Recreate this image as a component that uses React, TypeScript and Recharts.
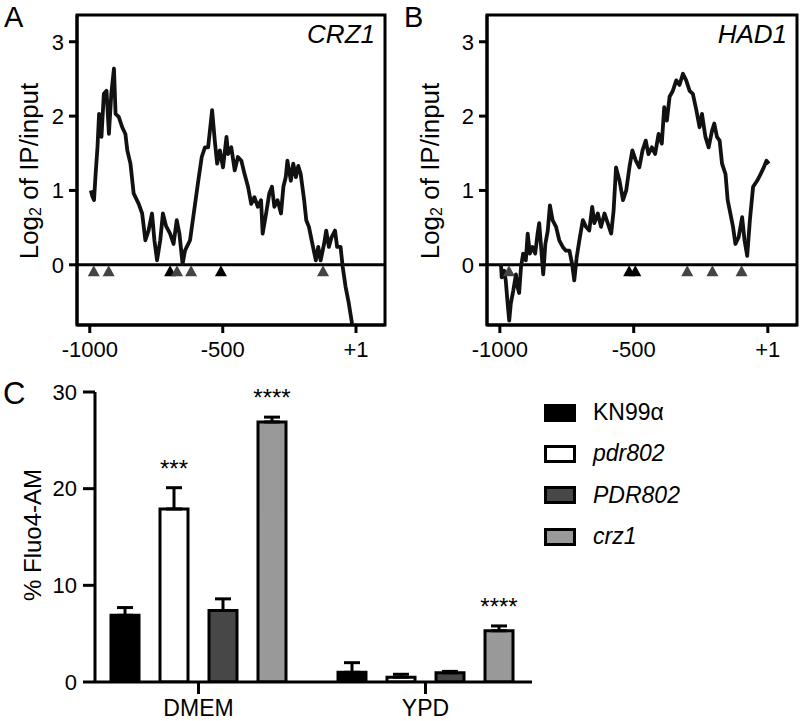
import React from "react";
import {
  ComposedChart,
  Line,
  Scatter,
  XAxis,
  YAxis,
  ReferenceLine,
  ReferenceArea,
  BarChart,
  Bar,
  ErrorBar,
  LabelList,
  Legend,
} from "recharts";

const FONT = "'Liberation Sans', Arial, Helvetica, sans-serif";

// A: CRZ1 promoter, position vs log2 IP/input
const crz1Pos = [
  -996, -990, -984, -978, -971, -965, -956, -947, -937, -928, -919, -909, -903, -891, -878, -866, -859, -847,
  -835, -816, -803, -791, -779, -766, -757, -747, -735, -725, -713, -698, -685, -673, -663, -651, -642, -623,
  -604, -592, -579, -567, -555, -540, -530, -521, -511, -499, -486, -480, -468, -455, -443, -430, -418, -405,
  -393, -381, -368, -356, -350, -337, -325, -315, -306, -294, -281, -272, -263, -257, -244, -235, -225, -216,
  -207, -194, -186, -176, -163, -150, -141, -132, -119, -111, -101, -91, -78, -70, -57, -49, -38, -26, -14, -8,
];
const crz1Log2 = [
  1.0, 0.92, 0.87, 1.22, 1.58, 2.03, 1.72, 2.3, 2.34, 1.76, 2.3, 2.64, 2.03, 1.99, 1.85, 1.76, 1.54, 1.36,
  0.96, 0.82, 0.69, 0.33, 0.46, 0.69, 0.33, 0.06, 0.33, 0.69, 0.52, 0.42, 0.28, 0.6, 0.42, 0.01, 0.19, 0.33,
  0.82, 1.13, 1.45, 1.58, 1.58, 2.08, 1.67, 1.36, 1.54, 1.31, 1.72, 1.49, 1.58, 1.27, 1.45, 1.4, 1.22, 1.05,
  0.82, 0.91, 0.78, 0.87, 0.42, 0.69, 0.96, 1.05, 0.78, 0.87, 0.69, 1.05, 1.18, 1.4, 1.13, 1.36, 1.18, 1.33,
  1.22, 0.87, 0.6, 0.51, 0.28, 0.06, 0.24, 0.06, 0.28, 0.46, 0.24, 0.37, 0.46, 0.24, 0.24, -0.03, -0.3, -0.52, -0.79, -0.9,
];

// B: HAD1 promoter
const had1Pos = [
  -996, -993, -984, -978, -971, -965, -959, -950, -940, -934, -928, -921, -913, -903, -896, -888, -878, -868,
  -859, -853, -846, -838, -830, -821, -813, -803, -790, -778, -765, -753, -740, -730, -722, -713, -703, -690,
  -678, -666, -655, -647, -634, -622, -609, -597, -584, -575, -566, -553, -540, -528, -516, -505, -492, -479,
  -467, -455, -445, -432, -420, -407, -395, -386, -376, -366, -354, -341, -329, -316, -304, -291, -279, -266,
  -254, -245, -232, -220, -207, -199, -189, -179, -170, -157, -149, -139, -129, -120, -108, -95, -86, -76,
  -66, -54, -39, -26, -14, -4, 5,
];
const had1Log2 = [
  0.01, -0.17, -0.08, -0.21, -0.52, -0.75, -0.52, -0.35, -0.13, -0.3, -0.38, -0.03, 0.15, 0.06, 0.42, 0.15, 0.24, 0.15,
  0.42, 0.56, 0.24, -0.13, 0.28, 0.46, 0.8, 0.6, 0.51, 0.33, 0.24, 0.19, 0.19, 0.01, -0.21, 0.1, 0.33, 0.6,
  0.51, 0.46, 0.78, 0.56, 0.69, 0.51, 0.69, 0.56, 0.42, 0.73, 1.31, 1.13, 0.87, 1.0, 1.31, 1.54, 1.4, 1.31,
  1.54, 1.67, 1.49, 1.58, 1.49, 1.76, 1.63, 2.12, 1.94, 2.26, 2.34, 2.48, 2.42, 2.57, 2.48, 2.34, 2.3, 2.08,
  1.85, 2.03, 1.72, 1.58, 1.81, 1.9, 1.72, 1.67, 1.36, 1.22, 0.87, 0.69, 0.51, 0.28, 0.37, 0.64, 0.33, 0.12,
  0.6, 1.05, 1.13, 1.22, 1.31, 1.4, 1.36,
];

// motif sites drawn as triangles under the zero line
const crz1Sites = [-985, -929, -698, -672, -619, -507, -123];
const crz1SiteColor = ["#444", "#444", "#000", "#444", "#444", "#000", "#444"];
const had1Sites = [-966, -517, -494, -300, -206, -97];
const had1SiteColor = ["#444", "#000", "#000", "#444", "#444", "#444"];
const SITE_Y = -0.08;

const promoterTicks = [-1000, -500, 1];
const log2Ticks = [0, 1, 2, 3];
const X_DOMAIN = [-1048, 110];
const Y_DOMAIN = [-0.81, 3.36];

// C: % Fluo4-AM
const media = ["DMEM", "YPD"];
const strains = ["KN99\u03b1", "pdr802", "PDR802", "crz1"];
const strainFill = ["#000", "#fff", "#474747", "#999"];
const kn99Mean = [6.9, 1.0];
const kn99Err = [0.8, 1.0];
const pdr802Mean = [17.9, 0.5];
const pdr802Err = [2.2, 0.3];
const pdr802CompMean = [7.4, 0.95];
const pdr802CompErr = [1.2, 0.15];
const crz1Mean = [26.9, 5.3];
const crz1Err = [0.5, 0.5];
const pdr802Stars = ["***", ""];
const crz1Stars = ["****", "****"];
const fluoTicks = [0, 10, 20, 30];

const zip = (xs: number[], ys: number[]) => xs.map((x, i) => ({ x, y: ys[i] }));
const crz1Trace = zip(crz1Pos, crz1Log2);
const had1Trace = zip(had1Pos, had1Log2);
const crz1Marks = crz1Sites.map((x, i) => ({ x, y: SITE_Y, color: crz1SiteColor[i] }));
const had1Marks = had1Sites.map((x, i) => ({ x, y: SITE_Y, color: had1SiteColor[i] }));

const fluoData = media.map((m, i) => ({
  medium: m,
  kn99: kn99Mean[i],
  kn99E: [0, kn99Err[i]],
  pdr: pdr802Mean[i],
  pdrE: [0, pdr802Err[i]],
  comp: pdr802CompMean[i],
  compE: [0, pdr802CompErr[i]],
  crz: crz1Mean[i],
  crzE: [0, crz1Err[i]],
}));

const Tri = (props: any) => {
  const { cx, cy, payload } = props;
  if (cx == null || cy == null) return null;
  return (
    <polygon
      points={`${cx - 6},${cy + 5.5} ${cx + 6},${cy + 5.5} ${cx},${cy - 5.5}`}
      fill={payload.color}
    />
  );
};

const Log2Title = ({ cx, cy }: { cx: number; cy: number }) => (
  <text
    x={cx}
    y={cy}
    transform={`rotate(-90 ${cx} ${cy})`}
    textAnchor="middle"
    dominantBaseline="central"
    fontSize={26}
    fontFamily={FONT}
    fill="#000"
  >
    Log
    <tspan fontSize={16} dy={6}>
      2
    </tspan>
    <tspan dy={-6}> of IP/input</tspan>
  </text>
);

const tickStyle = { fill: "#000", fontSize: 22, fontFamily: FONT };
const axisStroke = { stroke: "#000", strokeWidth: 3 };

type TraceProps = {
  letter: string;
  gene: string;
  trace: { x: number; y: number }[];
  marks: { x: number; y: number; color: string }[];
  yWidth: number;
  right: number;
  geneX: number;
};

const TracePanel = ({ letter, gene, trace, marks, yWidth, right, geneX }: TraceProps) => (
  <ComposedChart width={400} height={370} margin={{ top: 15, right, bottom: 0, left: 0 }}>
    <XAxis
      type="number"
      dataKey="x"
      domain={X_DOMAIN}
      ticks={promoterTicks}
      allowDataOverflow
      height={45}
      tickSize={8}
      tickMargin={8}
      axisLine={axisStroke}
      tickLine={axisStroke}
      tick={tickStyle}
      tickFormatter={(v: number) => (v === 1 ? "+1" : String(v))}
    />
    <YAxis
      type="number"
      dataKey="y"
      domain={Y_DOMAIN}
      ticks={log2Ticks}
      allowDataOverflow
      width={yWidth}
      tickSize={8}
      tickMargin={5}
      axisLine={axisStroke}
      tickLine={axisStroke}
      tick={tickStyle}
    />
    <ReferenceArea
      x1={X_DOMAIN[0]}
      x2={X_DOMAIN[1]}
      y1={Y_DOMAIN[0]}
      y2={Y_DOMAIN[1]}
      fill="none"
      stroke="#000"
      strokeWidth={3}
      fillOpacity={0}
    />
    <ReferenceLine y={0} stroke="#000" strokeWidth={3} />
    <Scatter data={marks} dataKey="y" shape={<Tri />} isAnimationActive={false} />
    <Line
      data={trace}
      dataKey="y"
      type="linear"
      stroke="#111"
      strokeWidth={3.8}
      strokeLinejoin="round"
      dot={false}
      isAnimationActive={false}
    />
    <text x={4} y={27} fontSize={29} fontFamily={FONT} fill="#000">
      {letter}
    </text>
    <text x={geneX} y={43} textAnchor="end" fontSize={26} fontStyle="italic" fontFamily={FONT} fill="#000">
      {gene}
    </text>
    <Log2Title cx={yWidth === 77 ? 29 : 30} cy={171} />
  </ComposedChart>
);

const starContent = (stars: string[], means: number[], errs: number[]) => (props: any) => {
  const { x, y, width, height, index } = props;
  const s = stars[index];
  if (!s) return null;
  const perUnit = height / means[index];
  const errTop = y - errs[index] * perUnit;
  return (
    <text x={x + width / 2} y={errTop - 11} textAnchor="middle" fontSize={24} fontFamily={FONT} fill="#000">
      {s}
    </text>
  );
};

const renderLegend = () => (
  <div style={{ fontFamily: FONT, color: "#000" }}>
    {strains.map((s, i) => (
      <div key={s} style={{ height: 41.3, display: "flex", alignItems: "center" }}>
        <div
          style={{
            width: 32,
            height: 18,
            background: strainFill[i],
            border: "3px solid #000",
            boxSizing: "border-box",
          }}
        />
        <span style={{ marginLeft: 17, fontSize: 23, fontStyle: i === 0 ? "normal" : "italic" }}>{s}</span>
      </div>
    ))}
  </div>
);

const barStroke = { stroke: "#000", strokeWidth: 3 };

const FluoPanel = () => (
  <BarChart
    width={800}
    height={361}
    data={fluoData}
    margin={{ top: 32, right: 268, bottom: 0, left: 0 }}
    barSize={28}
    barGap={21}
  >
    <XAxis
      dataKey="medium"
      padding={{ left: -10, right: -7 }}
      height={39}
      tickSize={12}
      tickMargin={6}
      axisLine={axisStroke}
      tickLine={axisStroke}
      tick={{ fill: "#000", fontSize: 23, fontFamily: FONT }}
    />
    <YAxis
      domain={[0, 30]}
      ticks={fluoTicks}
      allowDataOverflow
      width={95}
      tickSize={12}
      tickMargin={6}
      axisLine={axisStroke}
      tickLine={axisStroke}
      tick={tickStyle}
    />
    <Legend
      layout="vertical"
      align="center"
      verticalAlign="middle"
      wrapperStyle={{ left: 544, top: 32, width: 240 }}
      content={renderLegend}
    />
    <Bar dataKey="kn99" fill={strainFill[0]} {...barStroke} isAnimationActive={false}>
      <ErrorBar dataKey="kn99E" direction="y" width={8} stroke="#000" strokeWidth={3} />
    </Bar>
    <Bar dataKey="pdr" fill={strainFill[1]} {...barStroke} isAnimationActive={false}>
      <ErrorBar dataKey="pdrE" direction="y" width={8} stroke="#000" strokeWidth={3} />
      <LabelList dataKey="pdr" content={starContent(pdr802Stars, pdr802Mean, pdr802Err)} />
    </Bar>
    <Bar dataKey="comp" fill={strainFill[2]} {...barStroke} isAnimationActive={false}>
      <ErrorBar dataKey="compE" direction="y" width={8} stroke="#000" strokeWidth={3} />
    </Bar>
    <Bar dataKey="crz" fill={strainFill[3]} {...barStroke} isAnimationActive={false}>
      <ErrorBar dataKey="crzE" direction="y" width={8} stroke="#000" strokeWidth={3} />
      <LabelList dataKey="crz" content={starContent(crz1Stars, crz1Mean, crz1Err)} />
    </Bar>
    <text x={3} y={44} fontSize={31} fontFamily={FONT} fill="#000">
      C
    </text>
    <text
      x={32}
      y={175}
      transform="rotate(-90 32 175)"
      textAnchor="middle"
      dominantBaseline="central"
      fontSize={24}
      fontFamily={FONT}
      fill="#000"
    >
      % Fluo4-AM
    </text>
  </BarChart>
);

export default function App() {
  return (
    <div style={{ position: "absolute", left: 0, top: 0, width: 800, height: 721, background: "#fff" }}>
      <div style={{ position: "absolute", left: 0, top: 0 }}>
        <TracePanel
          letter="A"
          gene="CRZ1"
          trace={crz1Trace}
          marks={crz1Marks}
          yWidth={77}
          right={15}
          geneX={375}
        />
      </div>
      <div style={{ position: "absolute", left: 400, top: 0 }}>
        <TracePanel
          letter="B"
          gene="HAD1"
          trace={had1Trace}
          marks={had1Marks}
          yWidth={87}
          right={3}
          geneX={387}
        />
      </div>
      <div style={{ position: "absolute", left: 0, top: 360 }}>
        <FluoPanel />
      </div>
    </div>
  );
}
